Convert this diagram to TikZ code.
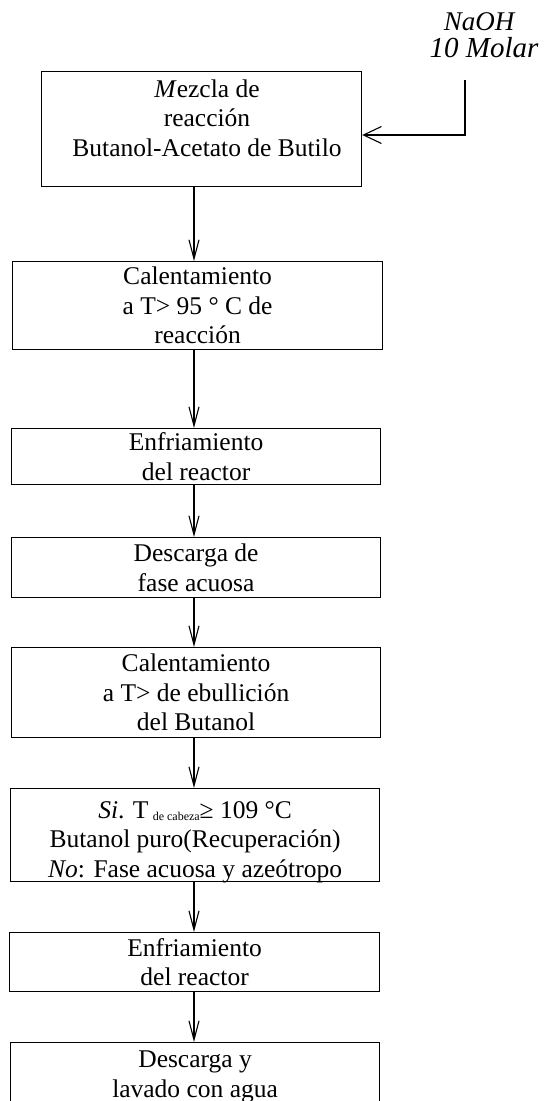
\documentclass[tikz,border=0pt]{standalone}
\usepackage{fontspec}
\setmainfont{Liberation Serif}
\usetikzlibrary{arrows.meta}
\begin{document}
\begin{tikzpicture}[x=1pt,y=-1pt,
  box/.style={draw, line width=1.2pt, inner sep=0pt, anchor=north west},
  txt/.style={align=center, font=\fontsize{25.5}{29.5}\selectfont, inner sep=0pt},
  feedtxt/.style={align=center, font=\fontsize{27}{27}\selectfont\itshape, inner sep=0pt},
  flow/.style={line width=1.1pt, -{Straight Barb[length=19pt,width=10pt]}},
  feed/.style={line width=1.1pt, -{Straight Barb[length=18pt,width=17pt]}}]
\clip (0,0) rectangle (547,1101);
% boxes
\node[box, minimum width=320pt, minimum height=115pt] (b1) at (41,71) {};
\node[box, minimum width=370pt, minimum height=88pt] (b2) at (12,261) {};
\node[box, minimum width=369pt, minimum height=56pt] (b3) at (11,428) {};
\node[box, minimum width=369pt, minimum height=60pt] (b4) at (11,537) {};
\node[box, minimum width=369pt, minimum height=90pt] (b5) at (11,647) {};
\node[box, minimum width=369pt, minimum height=93pt] (b6) at (10,788) {};
\node[box, minimum width=370pt, minimum height=59pt] (b7) at (9,932) {};
\node[box, minimum width=369pt, minimum height=90pt] (b8) at (10,1042) {};
% texts
\node[txt] (t1) at (207,118) {\textit{M}ezcla de\\reacción\\Butanol-Acetato de Butilo};
\node[txt] (t2) at (b2.center) {Calentamiento\\a T> 95 ° C de\\reacción};
\node[txt] (t3) at (b3.center) {Enfriamiento\\del reactor};
\node[txt] (t4) at (b4.center) {Descarga de\\fase acuosa};
\node[txt] (t5) at (b5.center) {Calentamiento\\a T> de ebullición\\del Butanol};
\node[txt] (t6) at ([yshift=-7pt]b6.center) {\textit{Si}. T\,{\fontsize{12}{12}\selectfont\raisebox{-2pt}{de cabeza}}≥ 109 °C\\Butanol puro(Recuperación)\\\textit{No}: Fase acuosa y azeótropo};
\node[txt] (t7) at (b7.center) {Enfriamiento\\del reactor};
\node[txt, anchor=north] (t8) at ([yshift=-9pt]b8.north) {Descarga y\\lavado con agua};
% feed
\node[feedtxt, anchor=north] (naoh) at (484,12) {NaOH\hspace*{10pt}\\{\fontsize{29}{29}\selectfont 10 Molar}};
\coordinate (c1) at (465,80);
\coordinate (c2) at (465,135);
\draw[feed] (c1) -- (c2) -- (c2 -| b1.east);
% flow arrows
\coordinate (ax) at (194,0);
\draw[flow] (b1.south -| ax) -- (b2.north -| ax);
\draw[flow] (b2.south -| ax) -- (b3.north -| ax);
\draw[flow] (b3.south -| ax) -- (b4.north -| ax);
\draw[flow] (b4.south -| ax) -- (b5.north -| ax);
\draw[flow] (b5.south -| ax) -- (b6.north -| ax);
\draw[flow] (b6.south -| ax) -- (b7.north -| ax);
\draw[flow] (b7.south -| ax) -- (b8.north -| ax);
\end{tikzpicture}
\end{document}
